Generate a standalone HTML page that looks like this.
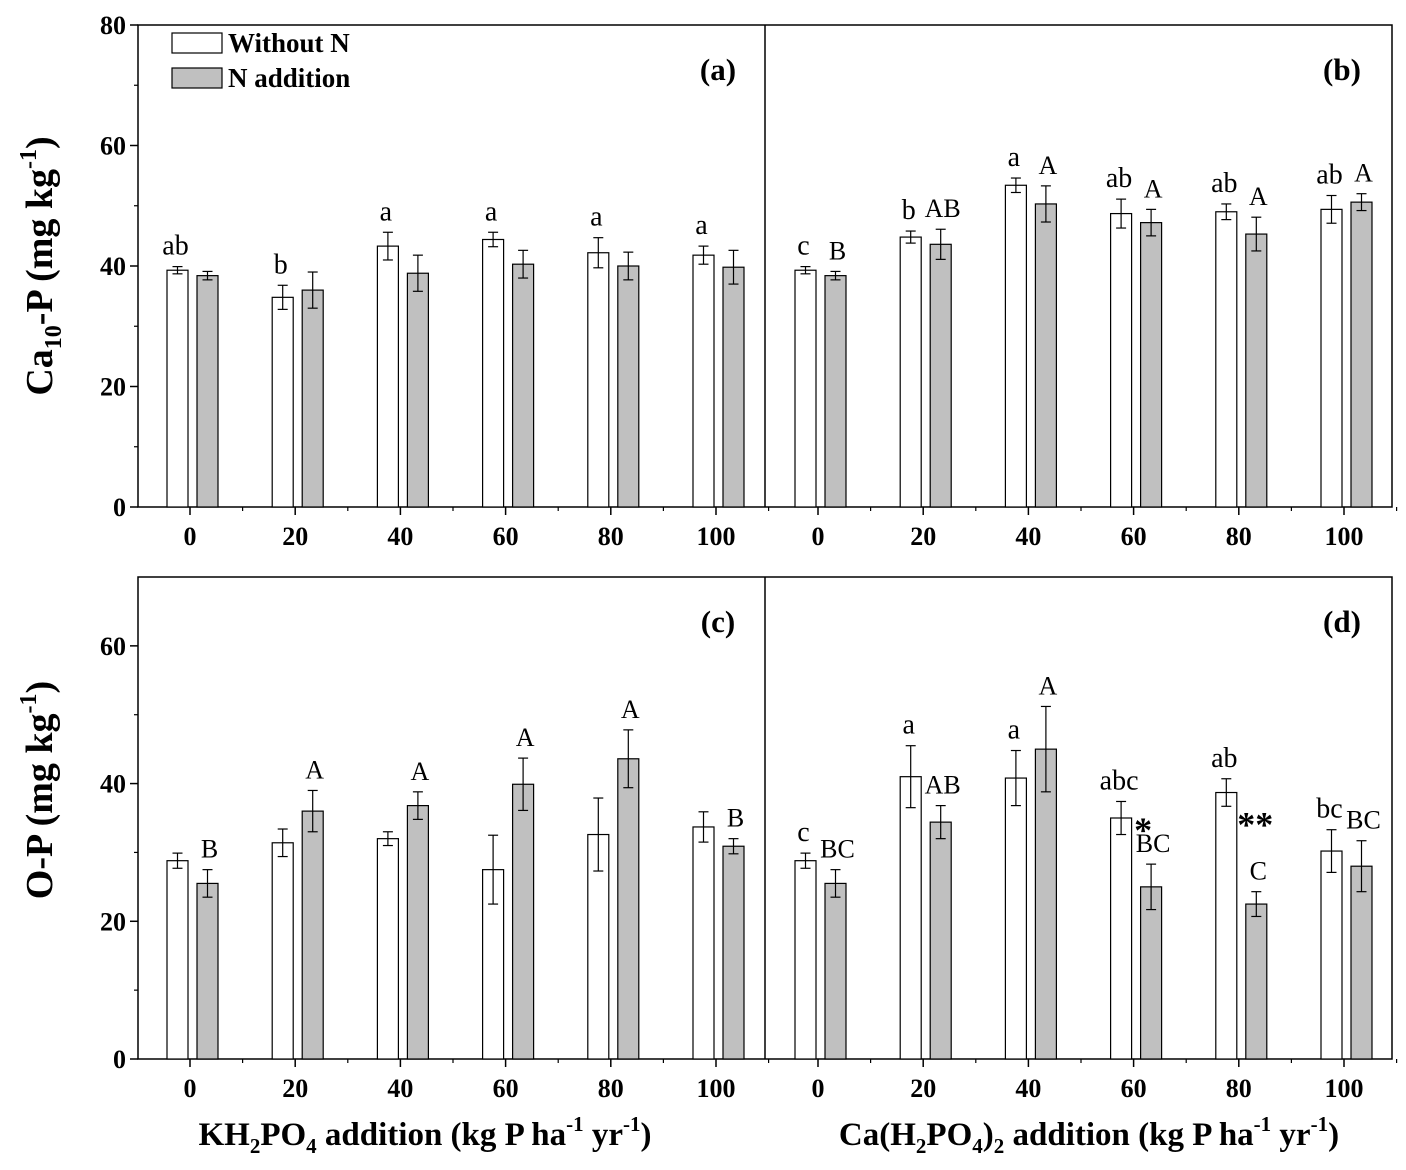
<!DOCTYPE html>
<html><head><meta charset="utf-8"><style>
body{margin:0;background:#fff}
svg{display:block;font-family:"Liberation Serif",serif}
</style></head><body>
<svg id="chart" width="1406" height="1170" viewBox="0 0 1406 1170" xmlns="http://www.w3.org/2000/svg"></svg>
<script>
const categories=[0,20,40,60,80,100];
const aWhite=[39.3,34.8,43.3,44.4,42.2,41.8];
const aWhiteErr=[0.6,2,2.3,1.2,2.5,1.5];
const aGray=[38.4,36,38.8,40.3,40,39.8];
const aGrayErr=[0.7,3,3,2.3,2.3,2.8];
const aWhiteLbl=["ab","b","a","a","a","a"];
const aGrayLbl=["","","","","",""];
const bWhite=[39.3,44.8,53.4,48.7,49,49.4];
const bWhiteErr=[0.6,1,1.2,2.4,1.3,2.3];
const bGray=[38.4,43.6,50.3,47.2,45.3,50.6];
const bGrayErr=[0.7,2.5,3,2.2,2.8,1.4];
const bWhiteLbl=["c","b","a","ab","ab","ab"];
const bGrayLbl=["B","AB","A","A","A","A"];
const cWhite=[28.8,31.4,32,27.5,32.6,33.7];
const cWhiteErr=[1.1,2,1,5,5.3,2.2];
const cGray=[25.5,36,36.8,39.9,43.6,30.9];
const cGrayErr=[2,3,2,3.8,4.2,1.1];
const cWhiteLbl=["","","","","",""];
const cGrayLbl=["B","A","A","A","A","B"];
const dWhite=[28.8,41,40.8,35,38.7,30.2];
const dWhiteErr=[1.1,4.5,4,2.4,2,3.1];
const dGray=[25.5,34.4,45,25,22.5,28];
const dGrayErr=[2,2.4,6.2,3.3,1.8,3.7];
const dWhiteLbl=["c","a","a","abc","ab","bc"];
const dGrayLbl=["BC","AB","A","BC","C","BC"];
const dStars=["","","","*","**",""];

const NS="http://www.w3.org/2000/svg";
const svg=document.getElementById('chart');
function mk(tag,attrs,parent){const e=document.createElementNS(NS,tag);for(const k in attrs)e.setAttribute(k,attrs[k]);(parent||svg).appendChild(e);return e;}
function txt(x,y,s,size,weight,anchor,name){const t=mk('text',{x:x,y:y,'font-size':size,'font-weight':weight,'text-anchor':anchor||'middle',fill:'#000'});t.textContent=s;


return t;}

function drawRow(y0,y1,ymax,yticks,minor,panels){
  const L=138,M=765,R=1392;
  const ys=v=>y0-(v/ymax)*(y0-y1);
  const fr=mk('rect',{x:L,y:y1,width:R-L,height:y0-y1,fill:'none',stroke:'#000','stroke-width':1.5});
  
  
  mk('line',{x1:M,y1:y1,x2:M,y2:y0,stroke:'#000','stroke-width':1.5});
  for(const v of yticks){const y=ys(v);mk('line',{x1:L-8,y1:y,x2:L,y2:y,stroke:'#000','stroke-width':1.5});
    txt(L-12,y+9,String(v),26,'bold','end','y-tick-label');}
  for(let v=minor;v<ymax;v+=minor*2){const y=ys(v);mk('line',{x1:L-4,y1:y,x2:L,y2:y,stroke:'#000','stroke-width':1.2});}
  panels.forEach((p,pi)=>{
    const base=pi===0?190:818, step=105.2;
    const xs=i=>base+i*step;
    for(let i=0;i<categories.length;i++){
      const c=xs(i);
      mk('line',{x1:c,y1:y0,x2:c,y2:y0+8,stroke:'#000','stroke-width':1.5});
      mk('line',{x1:c+step/2,y1:y0,x2:c+step/2,y2:y0+4,stroke:'#000','stroke-width':1.2});
      txt(c,y0+38,String(categories[i]),26,'bold','middle','x-tick-label');
      [[p.w,p.we,p.wl,'#fff',-23,'white'],[p.g,p.ge,p.gl,'#c0c0c0',7,'gray']].forEach(s=>{
        const v=s[0][i],e=s[1][i],x=c+s[4],w=21,yv=ys(v);
        const r=mk('rect',{x:x,y:yv,width:w,height:y0-yv,fill:s[3],stroke:'#000','stroke-width':1.2});
        
        
        const cx=x+w/2,yt=ys(v+e),yb=ys(v-e);
        mk('line',{x1:cx,y1:yt,x2:cx,y2:yb,stroke:'#000','stroke-width':1.2});
        mk('line',{x1:cx-5,y1:yt,x2:cx+5,y2:yt,stroke:'#000','stroke-width':1.2});
        mk('line',{x1:cx-5,y1:yb,x2:cx+5,y2:yb,stroke:'#000','stroke-width':1.2});
        const l=s[2][i];
        if(l){ if(s[5]==='white') txt(cx-2,yt-12,l,28,'normal','middle','significance-letter');
               else txt(cx+2,yt-12,l,26,'normal','middle','significance-letter');}
      });
      if(p.st&&p.st[i]){const gx=c+7+10.5;const two=p.st[i].length>1;
        txt(gx-8+(two?7:0),ys(p.g[i]+p.ge[i])+(two?-55:-22),p.st[i],36,'bold','middle','significance-star');}
    }
    txt(pi===0?718:1342,y1+55,p.name,31,'bold','middle','panel-label');
  });
}
drawRow(507,25,80,[0,20,40,60,80],10,[
 {w:aWhite,we:aWhiteErr,g:aGray,ge:aGrayErr,wl:aWhiteLbl,gl:aGrayLbl,name:'(a)'},
 {w:bWhite,we:bWhiteErr,g:bGray,ge:bGrayErr,wl:bWhiteLbl,gl:bGrayLbl,name:'(b)'}]);
drawRow(1059,577,70,[0,20,40,60],10,[
 {w:cWhite,we:cWhiteErr,g:cGray,ge:cGrayErr,wl:cWhiteLbl,gl:cGrayLbl,name:'(c)'},
 {w:dWhite,we:dWhiteErr,g:dGray,ge:dGrayErr,wl:dWhiteLbl,gl:dGrayLbl,st:dStars,name:'(d)'}]);
</script>
<svg style="position:absolute;left:0;top:0" width="1406" height="1170">
 <g font-family="Liberation Serif, serif" font-weight="bold" font-size="27">
  <rect x="172" y="33" width="50" height="20" fill="#fff" stroke="#000" stroke-width="1.2"/>
  <text x="228" y="52">Without N</text>
  <rect x="172" y="68" width="50" height="20" fill="#c0c0c0" stroke="#000" stroke-width="1.2"/>
  <text x="228" y="87">N addition</text>
 </g>
 <text transform="translate(52,266) rotate(-90)" text-anchor="middle" font-family="Liberation Serif, serif" font-weight="bold" font-size="38">Ca<tspan font-size="24" dy="9">10</tspan><tspan dy="-9">-P (mg kg</tspan><tspan font-size="24" dy="-16">-1</tspan><tspan dy="16">)</tspan></text>
 <text transform="translate(52,790) rotate(-90)" text-anchor="middle" font-family="Liberation Serif, serif" font-weight="bold" font-size="38">O-P (mg kg<tspan font-size="24" dy="-16">-1</tspan><tspan dy="16">)</tspan></text>
 <text x="425" y="1145" text-anchor="middle" font-family="Liberation Serif, serif" font-weight="bold" font-size="33">KH<tspan font-size="21" dy="8">2</tspan><tspan dy="-8">PO</tspan><tspan font-size="21" dy="8">4</tspan><tspan dy="-8"> addition (kg P ha</tspan><tspan font-size="21" dy="-14">-1</tspan><tspan dy="14"> yr</tspan><tspan font-size="21" dy="-14">-1</tspan><tspan dy="14">)</tspan></text>
 <text x="1089" y="1145" text-anchor="middle" font-family="Liberation Serif, serif" font-weight="bold" font-size="33">Ca(H<tspan font-size="21" dy="8">2</tspan><tspan dy="-8">PO</tspan><tspan font-size="21" dy="8">4</tspan><tspan dy="-8">)</tspan><tspan font-size="21" dy="8">2</tspan><tspan dy="-8"> addition (kg P ha</tspan><tspan font-size="21" dy="-14">-1</tspan><tspan dy="14"> yr</tspan><tspan font-size="21" dy="-14">-1</tspan><tspan dy="14">)</tspan></text>
</svg>
</body></html>
